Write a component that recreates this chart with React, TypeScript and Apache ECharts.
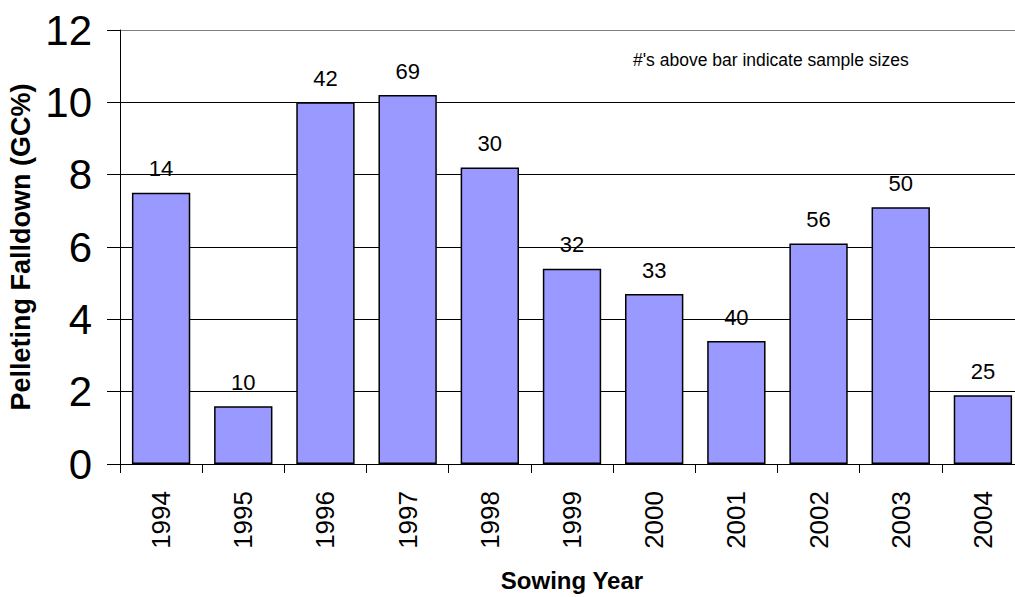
import React, { useEffect, useRef } from "react";
import * as echarts from "echarts";

const years = ["1994", "1995", "1996", "1997", "1998", "1999", "2000", "2001", "2002", "2003", "2004"];
const falldown = [7.5, 1.6, 10.0, 10.2, 8.2, 5.4, 4.7, 3.4, 6.1, 7.1, 1.9];
const sampleSizes = [14, 10, 42, 69, 30, 32, 33, 40, 56, 50, 25];
const yTitle = "Pelleting Falldown (GC%)";
const xTitle = "Sowing Year";
const note = "#'s above bar indicate sample sizes";

export default function App() {
  const ref = useRef<HTMLDivElement>(null);
  useEffect(() => {
    document.body.style.margin = "0";
    const chart = echarts.init(ref.current!, null, { renderer: "svg" });
    const font = "'Liberation Sans', Arial, sans-serif";
    chart.setOption({
      animation: false,
      backgroundColor: "#ffffff",
      textStyle: { fontFamily: font },
      grid: {
        left: 120,
        top: 30,
        width: 904,
        height: 434,
        containLabel: false,
        outerBoundsMode: "none",
      },
      xAxis: {
        type: "category",
        data: years,
        axisLine: { show: true, lineStyle: { color: "#000", width: 1 } },
        axisTick: { show: true, alignWithLabel: false, length: 9, lineStyle: { color: "#000" } },
        axisLabel: { rotate: 90, fontSize: 26, color: "#000", margin: 27, fontFamily: font },
        name: xTitle,
        nameLocation: "middle",
        nameGap: 104,
        nameTextStyle: { fontSize: 24, fontWeight: "bold", color: "#000", fontFamily: font },
      },
      yAxis: {
        type: "value",
        min: 0,
        max: 12,
        interval: 2,
        axisLine: { show: true, lineStyle: { color: "#000", width: 1 } },
        axisTick: { show: true, length: 13, lineStyle: { color: "#000" } },
        axisLabel: { fontSize: 42, color: "#000", margin: 28, fontFamily: font },
        splitLine: {
          show: true,
          lineStyle: { color: ["#000", "#000", "#000", "#000", "#000", "#000", "#808080"], width: 1 },
        },
        name: yTitle,
        nameLocation: "middle",
        nameGap: 83,
        nameTextStyle: { fontSize: 27, fontWeight: "bold", color: "#000", fontFamily: font },
      },
      series: [
        {
          type: "bar",
          data: falldown,
          barWidth: "71%",
          itemStyle: { color: "#9999ff", borderColor: "#000", borderWidth: 1.5 },
          label: {
            show: true,
            position: "top",
            distance: 13,
            fontSize: 22,
            color: "#000",
            fontFamily: font,
            formatter: (p: any) => String(sampleSizes[p.dataIndex]),
          },
        },
      ],
      graphic: [
        {
          type: "text",
          left: 633,
          top: 51,
          style: { text: note, fontSize: 17.5, fill: "#000", fontFamily: font },
        },
      ],
    });
    return () => chart.dispose();
  }, []);
  return <div ref={ref} style={{ width: 1015, height: 597 }} />;
}
